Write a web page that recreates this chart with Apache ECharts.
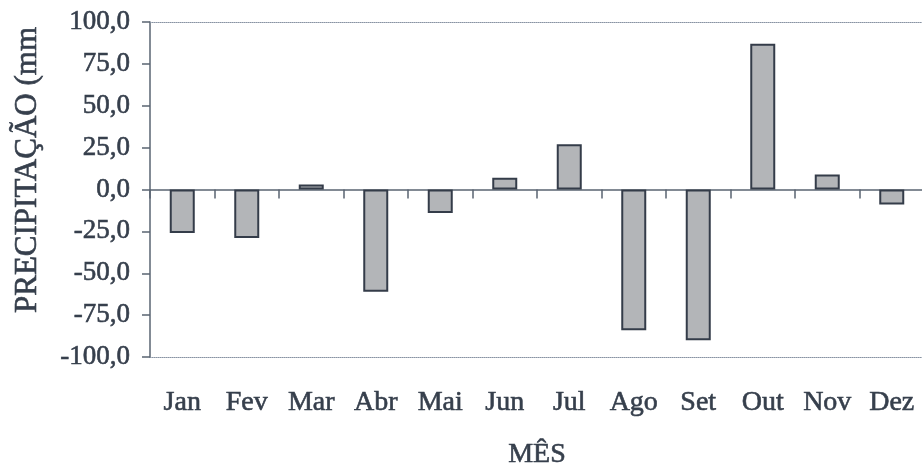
<html>
<head>
    <meta charset='utf-8'/>
    <title>Precipitação</title>
    <style>
        body { margin: 0; padding: 0; background: #fff; }
        #chart { width: 922px; height: 465px; }
    </style>
</head>
<body>
<div id='chart'></div>
<script type="text/javascript" src="https://cdn.jsdelivr.net/npm/echarts@6/dist/echarts.min.js"></script>
<script type="text/javascript">
    var meses = ['Jan', 'Fev', 'Mar', 'Abr', 'Mai', 'Jun', 'Jul', 'Ago', 'Set', 'Out', 'Nov', 'Dez'];
    var precipitacao = [-26, -29, 3, -61, -14, 7, 27, -84, -90, 87, 9, -9];
    var yTicks = [-100, -75, -50, -25, 0, 25, 50, 75, 100];

    var textColor = '#363f4c';
    var font = 'Liberation Serif';

    var chart = echarts.init(document.getElementById('chart'));
    var option = {
        backgroundColor: '#ffffff',
        animation: false,
        grid: { left: 150, right: -2, top: 22, bottom: 108, containLabel: false, outerBoundsMode: 'none' },
        xAxis: [{
            type: 'category',
            data: meses,
            axisLine: { onZero: true, lineStyle: { color: '#5a6472', width: 1.5 } },
            axisTick: { show: true, inside: false, length: 9, lineStyle: { color: '#5a6472', width: 1.5 } },
            axisLabel: { show: false }
        }, {
            type: 'category',
            data: meses,
            position: 'bottom',
            axisLine: { onZero: false, lineStyle: { color: '#8893a3', width: 1, type: 'dotted' } },
            axisTick: { show: false },
            axisLabel: {
                show: true, margin: 32, color: textColor, fontFamily: font, fontSize: 28,
                textBorderColor: textColor, textBorderWidth: 0.6
            },
            name: 'MÊS',
            nameLocation: 'middle',
            nameGap: 84,
            nameTextStyle: {
                color: textColor, fontFamily: font, fontSize: 28,
                textBorderColor: textColor, textBorderWidth: 0.6
            }
        }, {
            type: 'category',
            data: meses,
            position: 'top',
            axisLine: { onZero: false, lineStyle: { color: '#8893a3', width: 1, type: 'dotted' } },
            axisTick: { show: false },
            axisLabel: { show: false }
        }],
        yAxis: {
            type: 'value',
            min: yTicks[0],
            max: yTicks[yTicks.length - 1],
            interval: 25,
            axisLine: { show: true, lineStyle: { color: '#5a6472', width: 1.5 } },
            axisTick: { show: true, length: 8, lineStyle: { color: '#5a6472', width: 1.5 } },
            axisLabel: {
                margin: 20,
                color: textColor,
                fontFamily: font,
                fontSize: 27,
                textBorderColor: textColor,
                textBorderWidth: 0.6,
                formatter: function (v) { return v.toFixed(1).replace('.', ','); }
            },
            splitLine: { show: false }
        },
        graphic: [{
            type: 'text',
            x: 28,
            y: 170,
            rotation: Math.PI / 2,
            style: {
                text: 'PRECIPITAÇÃO (mm',
                fill: textColor,
                stroke: textColor,
                lineWidth: 0.6,
                font: '31px "Liberation Serif"',
                textAlign: 'center',
                textVerticalAlign: 'middle'
            }
        }],
        series: [{
            type: 'bar',
            xAxisIndex: 0,
            data: precipitacao,
            barWidth: 25,
            itemStyle: { color: '#b3b5b8', borderColor: '#343c49', borderWidth: 2 }
        }]
    };
    chart.setOption(option);
</script>
</body>
</html>
